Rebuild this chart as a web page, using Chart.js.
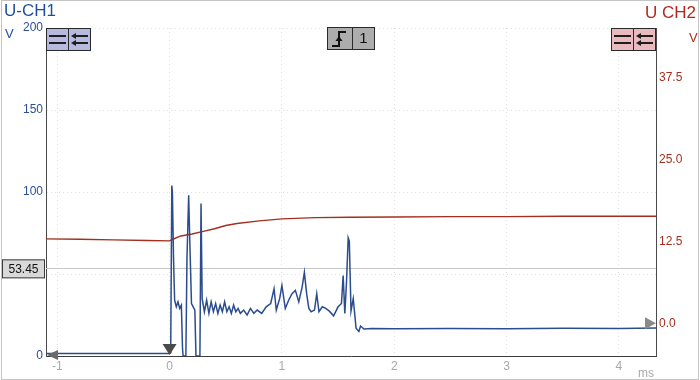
<!DOCTYPE html>
<html lang="en">
<head>
    <meta charset="UTF-8">
    <title>U-CH1 / U CH2</title>
    <script src="https://cdn.jsdelivr.net/npm/chart.js"></script>
    <style>
        html, body { margin: 0; padding: 0; background: #fff; }
        #wrap { width: 700px; height: 380px; }
    </style>
</head>
<body>
    <div id="wrap"><canvas id="scope" width="700" height="380"></canvas></div>
    <script>
        // channel 1 (left axis, V) - time in ms
        const ch1Time = [-1.1, -0.5, 0.0, 0.01, 0.02, 0.025, 0.035, 0.045, 0.06, 0.075, 0.09, 0.105, 0.115, 0.12, 0.145,
            0.155, 0.17, 0.18, 0.195, 0.21, 0.225, 0.235, 0.27, 0.28, 0.29, 0.31, 0.33, 0.35, 0.37, 0.39, 0.41, 0.43,
            0.45, 0.47, 0.49, 0.51, 0.53, 0.55, 0.57, 0.59, 0.61, 0.63, 0.66, 0.69, 0.72, 0.75, 0.78, 0.82, 0.86, 0.9,
            0.93, 0.95, 0.98, 1.0, 1.03, 1.06, 1.09, 1.12, 1.15, 1.18, 1.2, 1.22, 1.24, 1.26, 1.29, 1.31, 1.33, 1.36,
            1.39, 1.42, 1.46, 1.5, 1.53, 1.545, 1.56, 1.575, 1.59, 1.6, 1.615, 1.635, 1.66, 1.685, 1.7, 1.73, 1.8,
            2.0, 2.5, 3.0, 3.5, 4.0, 4.33];
        const ch1Volts = [1.6, 1.6, 1.6, 2, 104, 100, 60, 34, 30, 33, 29, 31, 5, 0, 0,
            60, 98, 70, 32, 30, 28, 0, 0, 93, 35, 27, 34, 26, 33, 27, 32, 26,
            31, 27, 33, 27, 30, 26, 31, 27, 29, 26, 28, 25, 29, 26, 28, 26, 30, 32,
            41, 28, 35, 43, 29, 34, 38, 40, 33, 42, 51, 38, 29, 27, 28, 38, 27, 30,
            29, 27.5, 24.5, 30, 32, 49, 26, 45, 72, 70, 27.5, 35, 17, 15, 18.3, 16.5, 16.8,
            16.6, 16.8, 16.6, 16.9, 16.7, 17];

        // channel 2 (right axis, V)
        const ch2Time = [-1.1, -0.8, -0.5, -0.2, 0.0, 0.03, 0.1, 0.2, 0.3, 0.4, 0.5, 0.6, 0.8, 1.0, 1.3, 1.6,
            2.0, 2.5, 3.0, 3.5, 4.0, 4.33];
        const ch2Volts = [12.85, 12.8, 12.7, 12.6, 12.55, 12.8, 13.3, 13.6, 14.0, 14.4, 14.9, 15.2, 15.6, 15.9, 16.1, 16.15,
            16.2, 16.25, 16.25, 16.3, 16.3, 16.3];

        const timeTicks = [-1, 0, 1, 2, 3, 4];
        const ch1Ticks = [0, 50, 100, 150, 200];
        const ch2Ticks = [0, 12.5, 25, 37.5];
        const cursorLevel = 53.45;
        const triggerTime = 0;

        const FONT = '"Liberation Sans", Arial, sans-serif';
        const BLUE = '#2b4c8f';
        const RED = '#a3301f';

        function pts(xs, ys) {
            return xs.map((x, i) => ({ x: x, y: ys[i] }));
        }

        function tri(ctx, a, b, c, fill) {
            ctx.beginPath();
            ctx.moveTo(a[0], a[1]);
            ctx.lineTo(b[0], b[1]);
            ctx.lineTo(c[0], c[1]);
            ctx.closePath();
            ctx.fillStyle = fill;
            ctx.fill();
        }

        function button(ctx, x, y, w, h, fill) {
            ctx.fillStyle = fill;
            ctx.fillRect(x, y, w, h);
            ctx.strokeStyle = '#2a2a2a';
            ctx.lineWidth = 1;
            ctx.strokeRect(x + 0.5, y + 0.5, w - 1, h - 1);
        }

        // the two halves of a channel button: "=" and "left arrows"
        function channelButton(ctx, x, y, fill) {
            button(ctx, x, y, 23, 23, fill);
            button(ctx, x + 22, y, 23, 23, fill);
            ctx.strokeStyle = '#1e1e1e';
            ctx.lineWidth = 2;
            ctx.beginPath();
            ctx.moveTo(x + 3, y + 8); ctx.lineTo(x + 20, y + 8);
            ctx.moveTo(x + 3, y + 15); ctx.lineTo(x + 20, y + 15);
            ctx.moveTo(x + 28, y + 8); ctx.lineTo(x + 42, y + 8);
            ctx.moveTo(x + 28, y + 15); ctx.lineTo(x + 42, y + 15);
            ctx.stroke();
            tri(ctx, [x + 25, y + 8], [x + 30, y + 5], [x + 30, y + 11], '#1e1e1e');
            tri(ctx, [x + 25, y + 15], [x + 30, y + 12], [x + 30, y + 18], '#1e1e1e');
        }

        const scopeDecor = {
            id: 'scopeDecor',
            beforeDraw(chart) {
                const ctx = chart.ctx;
                ctx.save();
                ctx.fillStyle = '#ffffff';
                ctx.fillRect(0, 0, chart.width, chart.height);
                ctx.strokeStyle = '#c4c4c4';
                ctx.lineWidth = 1;
                ctx.strokeRect(1.5, 0.5, chart.width - 3, chart.height - 1);
                ctx.restore();
            },
            beforeDatasetsDraw(chart) {
                const ctx = chart.ctx;
                const a = chart.chartArea;
                const yc = Math.round(chart.scales.y.getPixelForValue(cursorLevel)) + 0.5;
                ctx.save();
                ctx.strokeStyle = '#c6c6c6';
                ctx.lineWidth = 1;
                ctx.beginPath();
                ctx.moveTo(a.left, yc);
                ctx.lineTo(a.right, yc);
                ctx.stroke();
                ctx.restore();
            },
            afterDraw(chart) {
                const ctx = chart.ctx;
                const a = chart.chartArea;
                const sx = chart.scales.x, sy = chart.scales.y, sy2 = chart.scales.y2;
                ctx.save();

                // titles and units
                ctx.textBaseline = 'alphabetic';
                ctx.font = '17px ' + FONT;
                ctx.fillStyle = '#1f4f9f';
                ctx.textAlign = 'left';
                ctx.fillText('U-CH1', 4, 16);
                ctx.fillStyle = '#b02a1c';
                ctx.textAlign = 'right';
                ctx.fillText('U CH2', 696, 18);
                ctx.font = '13px ' + FONT;
                ctx.textAlign = 'left';
                ctx.fillStyle = '#1f4f9f';
                ctx.fillText('V', 5, 38);
                ctx.fillStyle = '#b02a1c';
                ctx.fillText('V', 689, 42);
                ctx.fillStyle = '#a8a8a8';
                ctx.font = '12px ' + FONT;
                ctx.fillText('ms', 638, 377);

                // channel buttons and trigger box
                channelButton(ctx, 46, 28, '#b6badf');
                channelButton(ctx, 611, 28, '#e9babe');
                button(ctx, 327, 27, 26, 23, '#adadad');
                button(ctx, 352, 27, 23, 23, '#adadad');
                ctx.strokeStyle = '#111';
                ctx.lineWidth = 2;
                ctx.beginPath();
                ctx.moveTo(332, 46); ctx.lineTo(339, 46);
                ctx.lineTo(339, 32); ctx.lineTo(346, 32);
                ctx.stroke();
                tri(ctx, [339, 36], [335.5, 41], [342.5, 41], '#111');
                ctx.fillStyle = '#111';
                ctx.font = '15px ' + FONT;
                ctx.textAlign = 'center';
                ctx.textBaseline = 'middle';
                ctx.fillText('1', 363.5, 39);

                // cursor value box
                const yc = sy.getPixelForValue(cursorLevel);
                ctx.fillStyle = '#d9d9d9';
                ctx.fillRect(2, yc - 9, 43, 19);
                ctx.strokeStyle = '#3a3a3a';
                ctx.lineWidth = 1;
                ctx.strokeRect(2.5, yc - 8.5, 42, 18);
                ctx.fillStyle = '#111';
                ctx.font = '12px ' + FONT;
                ctx.fillText(cursorLevel.toFixed(2), 23.5, yc + 1);

                // markers: ch1 zero, trigger, ch2 zero
                const y0 = sy.getPixelForValue(0) - 1;
                tri(ctx, [a.left + 1, y0], [a.left + 12, y0 - 5], [a.left + 12, y0 + 5], '#6a6a6a');
                const xt = sx.getPixelForValue(triggerTime);
                tri(ctx, [xt, a.bottom - 1], [xt - 7, a.bottom - 12], [xt + 7, a.bottom - 12], '#4a4a4a');
                const y20 = sy2.getPixelForValue(0);
                tri(ctx, [a.right, y20], [a.right - 11, y20 - 6], [a.right - 11, y20 + 6], '#8a8a8a');

                ctx.restore();
            }
        };

        const ctx = document.getElementById('scope').getContext('2d');
        const scopeChart = new Chart(ctx, {
            type: 'line',
            data: {
                datasets: [{
                    label: 'U-CH1',
                    data: pts(ch1Time, ch1Volts),
                    yAxisID: 'y',
                    borderColor: BLUE,
                    borderWidth: 1.5,
                    pointRadius: 0,
                    tension: 0
                }, {
                    label: 'U CH2',
                    data: pts(ch2Time, ch2Volts),
                    yAxisID: 'y2',
                    borderColor: RED,
                    borderWidth: 1.4,
                    pointRadius: 0,
                    tension: 0
                }]
            },
            options: {
                responsive: false,
                animation: false,
                layout: { padding: { top: 28, left: 0, right: 0, bottom: 0 } },
                plugins: {
                    legend: { display: false },
                    tooltip: { enabled: false }
                },
                scales: {
                    x: {
                        type: 'linear',
                        min: -1.1,
                        max: 4.33,
                        afterBuildTicks: s => { s.ticks = timeTicks.map(v => ({ value: v })); },
                        afterFit: s => { s.height = 24; },
                        ticks: {
                            color: '#a8a8a8',
                            font: { size: 12, family: FONT },
                            padding: 3,
                            maxRotation: 0,
                            autoSkip: false
                        },
                        grid: { color: '#dedede', lineWidth: 1, drawTicks: false },
                        border: { color: '#3c3c3c', width: 1, dash: [1, 3] }
                    },
                    y: {
                        position: 'left',
                        min: 0,
                        max: 200,
                        afterBuildTicks: s => { s.ticks = ch1Ticks.map(v => ({ value: v })); },
                        afterFit: s => { s.width = 46; },
                        ticks: {
                            color: '#2a4f96',
                            font: { size: 12, family: FONT },
                            padding: 3
                        },
                        grid: { color: '#e2e2e2', lineWidth: 1, drawTicks: false },
                        border: { color: '#4a4a4a', width: 1, dash: [1, 3] }
                    },
                    y2: {
                        position: 'right',
                        min: -5,
                        max: 45,
                        afterBuildTicks: s => { s.ticks = ch2Ticks.map(v => ({ value: v })); },
                        afterFit: s => { s.width = 44; },
                        ticks: {
                            color: '#a3301f',
                            font: { size: 12, family: FONT },
                            padding: 3,
                            callback: v => v.toFixed(1)
                        },
                        grid: { drawOnChartArea: false, drawTicks: false },
                        border: { color: '#4a4a4a', width: 1 }
                    }
                }
            },
            plugins: [scopeDecor]
        });
    </script>
</body>
</html>
